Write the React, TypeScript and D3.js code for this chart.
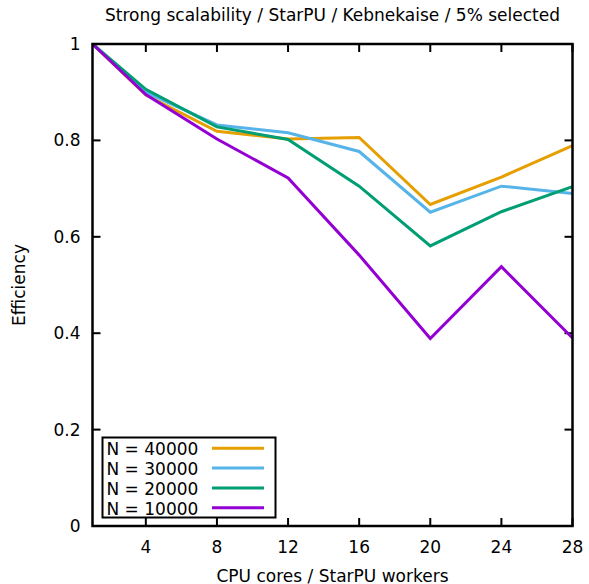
import React from "react";
import * as d3 from "d3";

const cores = [1, 4, 8, 12, 16, 20, 24, 28];
const seriesNames = ["N = 40000", "N = 30000", "N = 20000", "N = 10000"];
const n40000 = [1.0, 0.894, 0.819, 0.803, 0.806, 0.667, 0.724, 0.789];
const n30000 = [1.0, 0.9, 0.832, 0.816, 0.777, 0.651, 0.705, 0.69];
const n20000 = [1.0, 0.906, 0.828, 0.802, 0.705, 0.581, 0.652, 0.704];
const n10000 = [1.0, 0.895, 0.803, 0.722, 0.562, 0.389, 0.538, 0.39];
const colors = ["#e69f00", "#56b4e9", "#009e73", "#9400d3"];
const xTicks = [4, 8, 12, 16, 20, 24, 28];
const yTicks = [0, 0.2, 0.4, 0.6, 0.8, 1];

export default function App() {
  const W = 589, H = 584;
  const left = 92.5, right = 572.5, top = 44, bottom = 526;
  const x = d3.scaleLinear().domain([1, 28]).range([left, right]);
  const y = d3.scaleLinear().domain([0, 1]).range([bottom, top]);
  const data = [n40000, n30000, n20000, n10000];
  const line = d3
    .line<number>()
    .x((_, i) => x(cores[i]))
    .y((d) => y(d));
  const font = "DejaVu Sans, sans-serif";
  const fs = 17;
  const tl = 8;
  return (
    <svg
      width={W}
      height={H}
      style={{ position: "absolute", left: 0, top: 0 }}
      fontFamily={font}
    >
      <rect width={W} height={H} fill="white" />
      <text x={332.5} y={21} textAnchor="middle" fontSize={fs}>
        Strong scalability / StarPU / Kebnekaise / 5% selected
      </text>
      <g stroke="black" strokeWidth={2}>
        {xTicks.map((t) => (
          <g key={"x" + t}>
            <line x1={x(t)} x2={x(t)} y1={bottom} y2={bottom - tl} />
            <line x1={x(t)} x2={x(t)} y1={top} y2={top + tl} />
          </g>
        ))}
        {yTicks.map((t) => (
          <g key={"y" + t}>
            <line x1={left} x2={left + tl} y1={y(t)} y2={y(t)} />
            <line x1={right} x2={right - tl} y1={y(t)} y2={y(t)} />
          </g>
        ))}
      </g>
      {xTicks.map((t) => (
        <text key={"xl" + t} x={x(t)} y={bottom + 27} textAnchor="middle" fontSize={fs}>
          {t}
        </text>
      ))}
      {yTicks.map((t) => (
        <text key={"yl" + t} x={left - 12} y={y(t) + 6} textAnchor="end" fontSize={fs}>
          {d3.format("~g")(t)}
        </text>
      ))}
      <text x={332.5} y={582} textAnchor="middle" fontSize={fs}>
        CPU cores / StarPU workers
      </text>
      <text
        transform={`translate(25,${(top + bottom) / 2}) rotate(-90)`}
        textAnchor="middle"
        fontSize={fs}
      >
        Efficiency
      </text>
      {data.map((d, i) => (
        <path
          key={"s" + i}
          d={line(d) || ""}
          fill="none"
          stroke={colors[i]}
          strokeWidth={3}
          strokeLinejoin="miter"
        />
      ))}
      <rect x={102.5} y={437.5} width={173} height={80} fill="white" stroke="black" strokeWidth={2} />
      {seriesNames.map((s, i) => (
        <g key={"lg" + i}>
          <text x={106.5} y={455 + i * 20} fontSize={fs}>
            {s}
          </text>
          <line
            x1={212}
            x2={264}
            y1={448.3 + i * 19.8}
            y2={448.3 + i * 19.8}
            stroke={colors[i]}
            strokeWidth={3}
          />
        </g>
      ))}
      <rect x={left} y={top} width={right - left} height={bottom - top} fill="none" stroke="black" strokeWidth={2.5} />
    </svg>
  );
}
